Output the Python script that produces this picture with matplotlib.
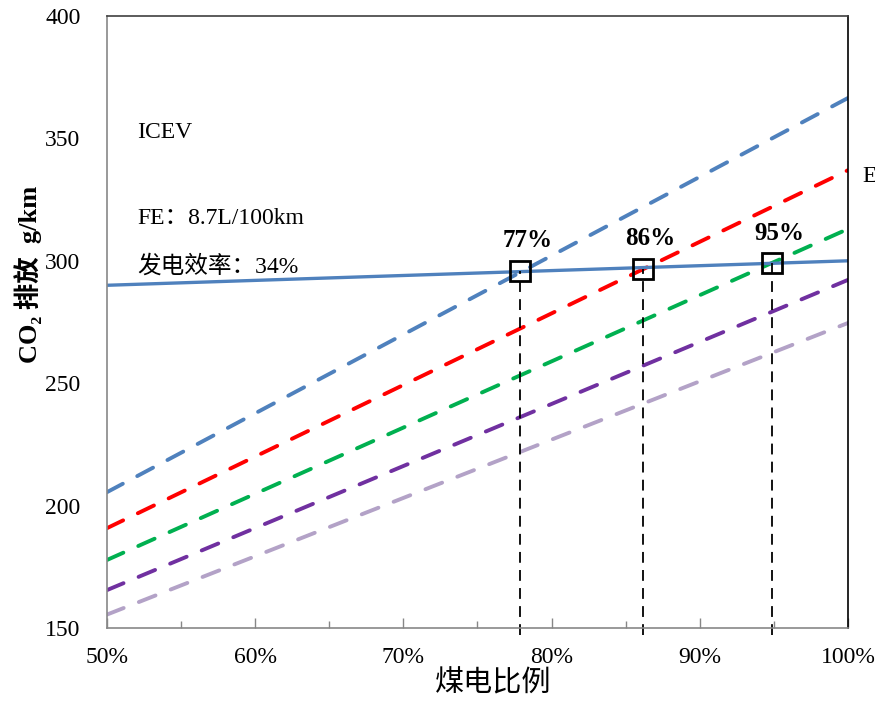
import matplotlib
matplotlib.use('Agg')
import matplotlib.pyplot as plt
from matplotlib.ticker import MultipleLocator, PercentFormatter

plt.rcParams['font.family'] = ['Liberation Serif', 'Noto Sans CJK SC', 'DejaVu Sans']

# -------- DATA --------
coalShare = [0.5, 1.0]
icev = [290, 300]
evBlue = [205.5, 366.5]
evRed = [190.8, 337.0]
evGreen = [177.8, 313.0]
evPurple = [165.5, 292.2]
evLavender = [155.5, 274.6]

crossX = [0.779, 0.862, 0.949]
crossY = [296.0, 296.8, 299.0]
crossLabels = ['77%', '86%', '95%']
# -------- DATA. --------

fig = plt.figure(figsize=(8.75, 7.01), dpi=100, facecolor='w')
ax = fig.add_axes([0.1223, 0.1041, 0.8468, 0.8731])

# ---- EV lines (dashed)
evSeries = [(evBlue, '#4F81BD'), (evRed, '#FF0000'), (evGreen, '#00B050'),
            (evPurple, '#7030A0'), (evLavender, '#B3A2C7')]
for vals, col in evSeries:
    ln, = ax.plot(coalShare, vals, color=col, linewidth=2.8, linestyle=(0, (4.6, 4.2)))
    ln.set_dash_capstyle('round')

# ---- ICEV line
ax.plot(coalShare, icev, color='#4F81BD', linewidth=2.4, solid_capstyle='butt')

# ---- crossing points
for x, y, lab in zip(crossX, crossY, crossLabels):
    ax.plot([x, x], [147, y], color='black', linewidth=1.3, linestyle=(0, (6, 4)), clip_on=False)
    ax.annotate(lab, (x, y), xytext=(5, 17), textcoords='offset points', ha='center',
                va='baseline', fontsize=18, fontweight='bold')
ax.plot(crossX, crossY, linestyle='none', marker='s', markersize=14, markerfacecolor='none',
        markeredgecolor='black', markeredgewidth=2)

# ---- texts
ax.text(0.0405, 0.80, 'ICEV', transform=ax.transAxes, fontsize=17, va='baseline')
ax.text(0.0405, 0.660, 'FE：8.7L/100km', transform=ax.transAxes, fontsize=17, va='baseline')
ax.text(0.0405, 0.580, '发电效率：34%', transform=ax.transAxes, fontsize=17, va='baseline')
fig.text(862 / 875, 1 - 177 / 701, 'EV', fontsize=17, va='center', ha='left')

# ---- axes styling
ax.set_xlim(0.5, 1.0)
ax.set_ylim(150, 400)
ax.xaxis.set_major_locator(MultipleLocator(0.1))
ax.xaxis.set_minor_locator(MultipleLocator(0.05))
ax.xaxis.set_major_formatter(PercentFormatter(xmax=1, decimals=0))
ax.yaxis.set_major_locator(MultipleLocator(50))
ax.tick_params(axis='x', which='major', direction='in', length=7, width=1, color='#878787',
               labelsize=17, pad=14)
ax.tick_params(axis='x', which='minor', direction='in', length=5, width=1, color='#878787')
ax.tick_params(axis='y', length=0, labelsize=17, pad=19)

ax.spines['left'].set_color('#878787')
ax.spines['bottom'].set_color('#878787')
ax.spines['right'].set_color('black')
ax.spines['top'].set_color('#404040')
for s in ax.spines.values():
    s.set_linewidth(1.2)

ax.set_ylabel('CO₂ 排放  g/km', fontsize=19, fontweight='bold')
ax.yaxis.set_label_coords(-0.088, 0.578)
ax.set_xlabel('煤电比例', fontsize=21, family=['Noto Sans CJK SC'])
ax.xaxis.set_label_coords(0.521, -0.066)

plt.savefig('out.png', dpi=100)
plt.close()
